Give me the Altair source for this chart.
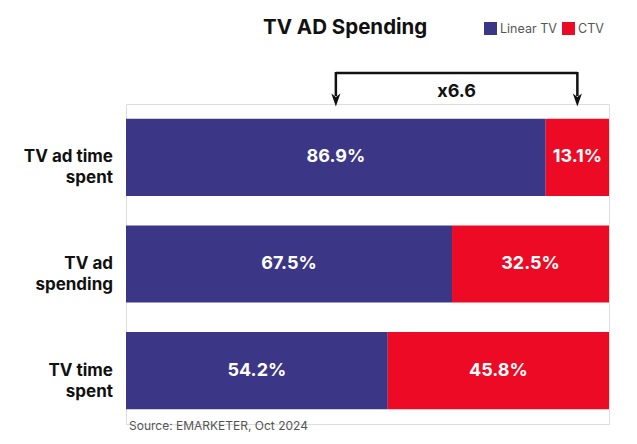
import altair as alt
import pandas as pd

# ---- data ----
categories = ["TV ad time spent", "TV ad spending", "TV time spent"]
category_lines = [["TV ad time", "spent"], ["TV ad", "spending"], ["TV time", "spent"]]
series = ["Linear TV", "CTV"]
linear_tv = [86.9, 67.5, 54.2]
ctv = [13.1, 32.5, 45.8]
title_text = "TV AD Spending"
source_text = "Source: EMARKETER, Oct 2024"
colors = ["#3b3685", "#ec0a24"]

FONT = "Inter"

rows = []
for c, lin, ct in zip(categories, linear_tv, ctv):
    rows.append({"category": c, "series": "Linear TV", "value": lin,
                 "start": 0.0, "end": lin, "mid": lin / 2, "label": f"{lin:.1f}%"})
    rows.append({"category": c, "series": "CTV", "value": ct,
                 "start": lin, "end": lin + ct, "mid": lin + ct / 2, "label": f"{ct:.1f}%"})
df = pd.DataFrame(rows)

cat_df = pd.DataFrame({"category": categories, "lines": category_lines})

arrow_df = pd.DataFrame([{
    "x_left": linear_tv[0] / 2,
    "x_right": linear_tv[0] + ctv[0] / 2,
    "x_mid": (linear_tv[0] / 2 + linear_tv[0] + ctv[0] / 2) / 2,
    "ratio": f"x{linear_tv[0] / ctv[0]:.1f}",
}])

xscale = alt.Scale(domain=[0, 100], nice=False, zero=True)
yscale = alt.Scale(domain=categories, paddingInner=0.277, paddingOuter=0.1385)

bars = alt.Chart(df).mark_bar(cornerRadius=0, strokeWidth=0).encode(
    x=alt.X("start:Q", scale=xscale, axis=None),
    x2="end:Q",
    y=alt.Y("category:N", scale=yscale, axis=None),
    color=alt.Color("series:N", scale=alt.Scale(domain=series, range=colors),
                    legend=alt.Legend(title=None, orient="none", direction="horizontal",
                                      legendX=358, legendY=-82, symbolType="square",
                                      symbolSize=169, symbolStrokeWidth=0,
                                      labelFont=FONT, labelFontSize=12.5, labelColor="#555555",
                                      labelOffset=3, columnPadding=5, padding=0)),
)

bar_labels = alt.Chart(df).mark_text(font=FONT, fontSize=18, fontWeight="bold",
                                     color="white", baseline="middle", align="center").encode(
    x=alt.X("mid:Q", scale=xscale),
    y=alt.Y("category:N", scale=yscale),
    text="label:N",
)

cat_labels = alt.Chart(cat_df).mark_text(font=FONT, fontSize=17, fontWeight="bold",
                                         color="#111111", align="right", baseline="middle",
                                         lineHeight=21).encode(
    x=alt.value(-13),
    y=alt.Y("category:N", scale=yscale),
    text="lines",
)

arrow_h = alt.Chart(arrow_df).mark_rule(color="#111111", strokeWidth=2.5).encode(
    x=alt.X("x_left:Q", scale=xscale),
    x2="x_right:Q",
    y=alt.value(-31),
)
arrow_v_left = alt.Chart(arrow_df).mark_rule(color="#111111", strokeWidth=2.5).encode(
    x=alt.X("x_left:Q", scale=xscale), y=alt.value(-32), y2=alt.value(-8),
)
arrow_v_right = alt.Chart(arrow_df).mark_rule(color="#111111", strokeWidth=2.5).encode(
    x=alt.X("x_right:Q", scale=xscale), y=alt.value(-32), y2=alt.value(-8),
)
head_shape = "M-0.7,-1L0,-0.45L0.7,-1L0,1Z"
head_left = alt.Chart(arrow_df).mark_point(shape=head_shape, filled=True, color="#111111",
                                           size=169, opacity=1, strokeWidth=0).encode(
    x=alt.X("x_left:Q", scale=xscale), y=alt.value(-4),
)
head_right = alt.Chart(arrow_df).mark_point(shape=head_shape, filled=True, color="#111111",
                                            size=169, opacity=1, strokeWidth=0).encode(
    x=alt.X("x_right:Q", scale=xscale), y=alt.value(-4),
)
ratio_text = alt.Chart(arrow_df).mark_text(font=FONT, fontSize=18, fontWeight="bold",
                                           color="#111111", baseline="middle").encode(
    x=alt.X("x_mid:Q", scale=xscale), y=alt.value(-12), text="ratio:N",
)

title = alt.Chart(pd.DataFrame({"t": [title_text]})).mark_text(
    font=FONT, fontSize=20.5, fontWeight="bold", color="#111111", align="left",
    baseline="middle").encode(x=alt.value(137), y=alt.value(-76), text="t:N")

source = alt.Chart(pd.DataFrame({"t": [source_text]})).mark_text(
    font=FONT, fontSize=12, color="#555555", align="left",
    baseline="middle").encode(x=alt.value(3), y=alt.value(322), text="t:N")

chart = alt.layer(
    bars, bar_labels, cat_labels, arrow_h, arrow_v_left, arrow_v_right,
    head_left, head_right, ratio_text, title, source,
).properties(
    width=483, height=320,
    padding={"left": 118, "top": 96, "right": 20, "bottom": 12},
    autosize=alt.AutoSizeParams(type="none"),
).configure_view(stroke=None, fill="white").configure(background="white")

chart.save("out.html", embed_options={"renderer": "svg", "actions": False})
